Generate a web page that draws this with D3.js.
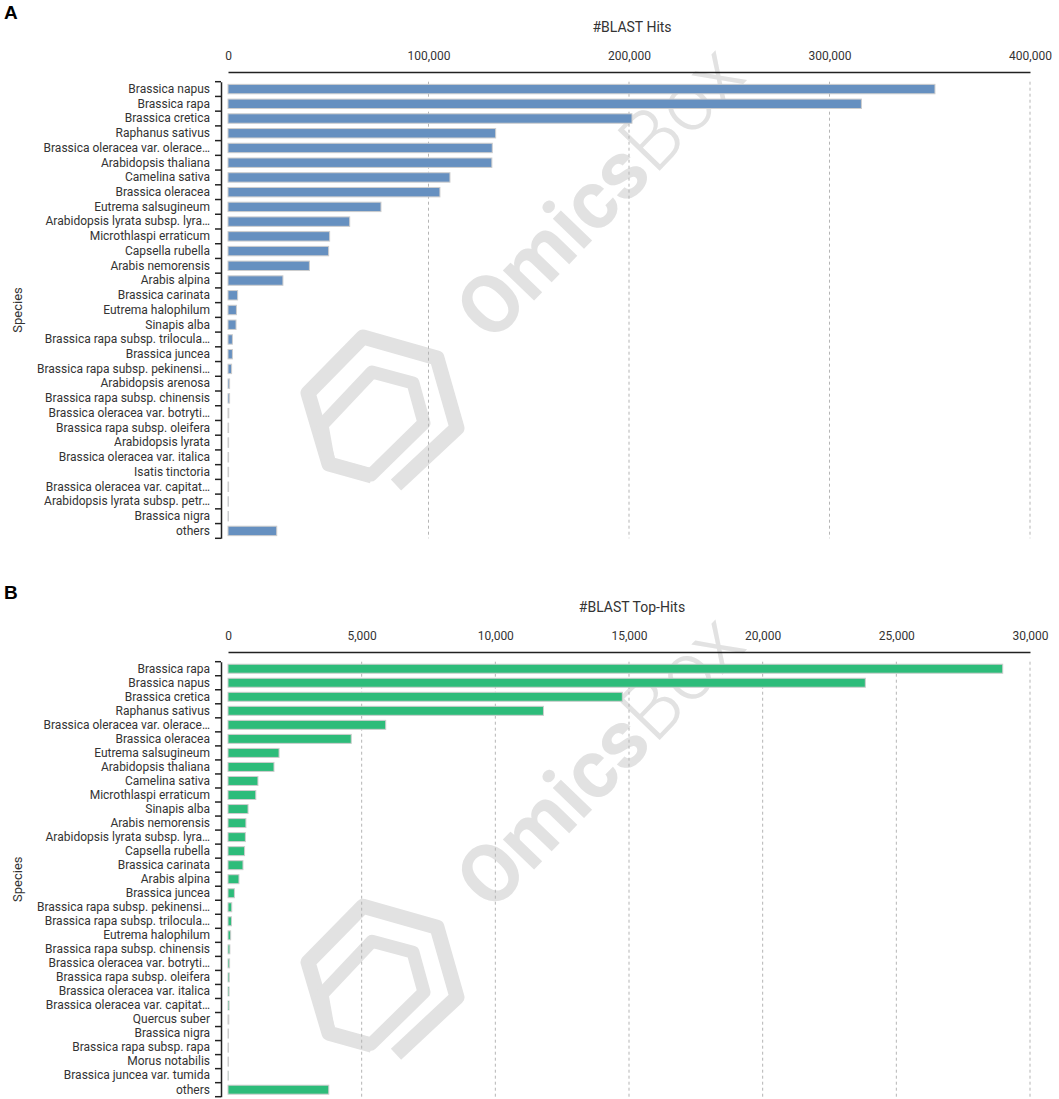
<!DOCTYPE html>
<html>
<head>
<meta charset="utf-8">
<script src="https://cdn.jsdelivr.net/npm/d3@7"></script>
<style>
  body { margin: 0; background: #fff; }
  text { font-family: Roboto, "Noto Sans", sans-serif; }
</style>
</head>
<body>
<svg id="chart" width="1059" height="1099"></svg>
<script>
// ---- data ----
var speciesA = [
  "Brassica napus", "Brassica rapa", "Brassica cretica", "Raphanus sativus",
  "Brassica oleracea var. olerace\u2026", "Arabidopsis thaliana", "Camelina sativa",
  "Brassica oleracea", "Eutrema salsugineum", "Arabidopsis lyrata subsp. lyra\u2026",
  "Microthlaspi erraticum", "Capsella rubella", "Arabis nemorensis", "Arabis alpina",
  "Brassica carinata", "Eutrema halophilum", "Sinapis alba",
  "Brassica rapa subsp. trilocula\u2026", "Brassica juncea",
  "Brassica rapa subsp. pekinensi\u2026", "Arabidopsis arenosa",
  "Brassica rapa subsp. chinensis", "Brassica oleracea var. botryti\u2026",
  "Brassica rapa subsp. oleifera", "Arabidopsis lyrata", "Brassica oleracea var. italica",
  "Isatis tinctoria", "Brassica oleracea var. capitat\u2026",
  "Arabidopsis lyrata subsp. petr\u2026", "Brassica nigra", "others"
];
var hitsA = [
  352600, 315900, 201500, 133500, 131800, 131600, 110700, 105700, 76300, 60700,
  50700, 50200, 40600, 27400, 4800, 4200, 4000, 2200, 2200, 1800,
  800, 800, 400, 300, 300, 300, 300, 300, 200, 200, 24300
];
var ticksA = [0, 100000, 200000, 300000, 400000];

var speciesB = [
  "Brassica rapa", "Brassica napus", "Brassica cretica", "Raphanus sativus",
  "Brassica oleracea var. olerace\u2026", "Brassica oleracea", "Eutrema salsugineum",
  "Arabidopsis thaliana", "Camelina sativa", "Microthlaspi erraticum", "Sinapis alba",
  "Arabis nemorensis", "Arabidopsis lyrata subsp. lyra\u2026", "Capsella rubella",
  "Brassica carinata", "Arabis alpina", "Brassica juncea",
  "Brassica rapa subsp. pekinensi\u2026", "Brassica rapa subsp. trilocula\u2026",
  "Eutrema halophilum", "Brassica rapa subsp. chinensis",
  "Brassica oleracea var. botryti\u2026", "Brassica rapa subsp. oleifera",
  "Brassica oleracea var. italica", "Brassica oleracea var. capitat\u2026",
  "Quercus suber", "Brassica nigra", "Brassica rapa subsp. rapa", "Morus notabilis",
  "Brassica juncea var. tumida", "others"
];
var topHitsB = [
  28980, 23840, 14750, 11800, 5900, 4610, 1910, 1720, 1120, 1040,
  750, 670, 650, 620, 560, 410, 240, 140, 130, 100,
  70, 60, 50, 40, 40, 30, 20, 20, 20, 10, 3770
];
var ticksB = [0, 5000, 10000, 15000, 20000, 25000, 30000];

var svg = d3.select("#chart");

// OmicsBox watermark (decoration), placed relative to the plot's vertical middle
function watermark(g, cy) {
  var wm = g.append("g").attr("class", "watermark");
  var line = d3.line();
  var dy = cy - 310;
  var outer = [[396, 485], [457, 428], [437, 358], [363, 337], [308, 393], [329, 464], [372, 476]];
  var inner = [[322, 425], [372, 372], [413, 383], [424, 423], [371, 475], [329, 464], [322, 425]];
  [[outer, 15], [inner, 13]].forEach(function(p) {
    wm.append("path")
        .attr("d", line(p[0].map(function(q) { return [q[0], q[1] + dy]; })))
        .attr("fill", "none")
        .attr("stroke", "#e2e2e2")
        .attr("stroke-width", p[1])
        .attr("stroke-linejoin", "round");
  });
  var t = wm.append("text")
      .attr("transform", "translate(600," + (cy - 118) + ") rotate(-46)")
      .attr("text-anchor", "middle")
      .attr("dominant-baseline", "central")
      .attr("font-size", 82)
      .attr("fill", "#e2e2e2");
  t.append("tspan").attr("font-weight", 700).text("Omics");
  t.append("tspan").attr("font-weight", 300).text("Box");
}

function panel(opts) {
  var g = svg.append("g").attr("transform", "translate(0," + opts.top + ")");
  var x = d3.scaleLinear().domain([0, opts.ticks[opts.ticks.length - 1]]).range([228, 1030]);
  var y = d3.scaleBand()
      .domain(opts.species)
      .range(opts.band)
      .paddingInner(0.36)
      .paddingOuter(0.18);
  var step = y.step();
  var mid = (opts.band[0] + opts.band[1]) / 2;

  watermark(g, mid);

  // panel letter
  svg.append("text")
      .attr("x", 4).attr("y", opts.top + 19)
      .attr("font-weight", "bold")
      .attr("font-size", 19)
      .attr("fill", "#000")
      .style("font-family", "Liberation Sans, Arial, sans-serif")
      .text(opts.letter);

  // title
  g.append("text")
      .attr("x", (x.range()[0] + x.range()[1]) / 2 + 3)
      .attr("y", 32)
      .attr("text-anchor", "middle")
      .attr("font-size", 14)
      .attr("fill", "#333")
      .text(opts.title);

  // grid
  g.append("g").selectAll("line")
    .data(opts.ticks.filter(function(d) { return d > 0; }))
    .join("line")
      .attr("x1", function(d) { return x(d); })
      .attr("x2", function(d) { return x(d); })
      .attr("y1", opts.band[0])
      .attr("y2", opts.band[1])
      .attr("stroke", "#b5b5b5")
      .attr("stroke-dasharray", "3,3");

  // top axis
  var xa = g.append("g")
      .attr("transform", "translate(0,72)")
      .call(d3.axisTop(x).tickValues(opts.ticks).tickFormat(d3.format(",")).tickSize(0).tickPadding(12));
  xa.select(".domain").attr("stroke", "#222").attr("stroke-width", 1.5);
  xa.selectAll("text").attr("font-size", 12).attr("fill", "#333").style("font-family", "Roboto, sans-serif");

  // bars
  g.append("g").selectAll("rect")
    .data(opts.values)
    .join("rect")
      .attr("x", x(0))
      .attr("y", function(d, i) { return y(opts.species[i]); })
      .attr("width", function(d) { return x(d) - x(0); })
      .attr("height", y.bandwidth())
      .attr("fill", opts.color)
      .attr("stroke", "#cdcdcd")
      .attr("stroke-width", 1);

  // left axis with ticks on band boundaries
  var ya = g.append("g")
      .attr("transform", "translate(221,0)")
      .call(d3.axisLeft(y).tickSize(0).tickPadding(11).tickSizeOuter(0));
  ya.select(".domain").attr("stroke", "#222").attr("stroke-width", 1.5);
  ya.selectAll("text").attr("font-size", 12).attr("fill", "#333").style("font-family", "Roboto, sans-serif");
  ya.append("g").selectAll("line")
    .data(d3.range(opts.species.length + 1))
    .join("line")
      .attr("x1", -6).attr("x2", 0)
      .attr("y1", function(i) { return opts.band[0] + i * step; })
      .attr("y2", function(i) { return opts.band[0] + i * step; })
      .attr("stroke", "#222")
      .attr("stroke-width", 1.5);

  g.append("text")
      .attr("transform", "translate(22," + mid + ") rotate(-90)")
      .attr("text-anchor", "middle")
      .attr("font-size", 13)
      .attr("fill", "#333")
      .text("Species");
}

panel({ top: 0, letter: "A", title: "#BLAST Hits", species: speciesA, values: hitsA,
        ticks: ticksA, band: [81.7, 538.3], color: "#6690c0" });
panel({ top: 580, letter: "B", title: "#BLAST Top-Hits", species: speciesB, values: topHitsB,
        ticks: ticksB, band: [81.7, 516.7], color: "#2dbc7a" });
</script>
</body>
</html>
